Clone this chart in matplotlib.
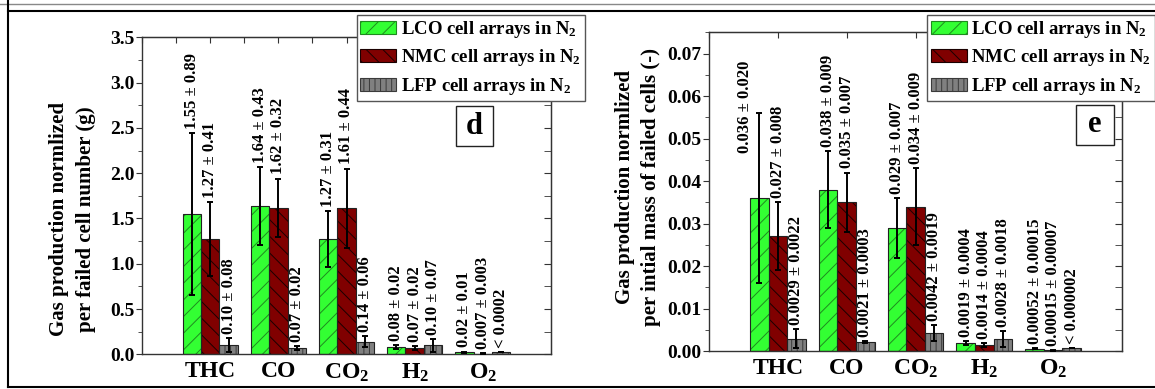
import matplotlib
matplotlib.use("Agg")
import matplotlib.pyplot as plt
from matplotlib.patches import Patch, Rectangle
from matplotlib.lines import Line2D
from matplotlib.ticker import MultipleLocator

plt.rcParams['font.family'] = ['Liberation Serif', 'DejaVu Serif']
plt.rcParams['font.weight'] = 'bold'
plt.rcParams['mathtext.fontset'] = 'custom'
plt.rcParams['mathtext.rm'] = 'Liberation Serif:bold'
plt.rcParams['mathtext.bf'] = 'Liberation Serif:bold'
plt.rcParams['mathtext.default'] = 'bf'
plt.rcParams['hatch.linewidth'] = 0.7

gases = ['THC', 'CO', 'CO$_2$', 'H$_2$', 'O$_2$']
series = ['LCO cell arrays in N$_2$', 'NMC cell arrays in N$_2$', 'LFP cell arrays in N$_2$']

# panel d: per failed cell number (g)
d_lco = [1.55, 1.64, 1.27, 0.08, 0.02]
d_lco_err = [0.89, 0.43, 0.31, 0.02, 0.01]
d_nmc = [1.27, 1.62, 1.61, 0.07, 0.007]
d_nmc_err = [0.41, 0.32, 0.44, 0.02, 0.003]
d_lfp = [0.10, 0.07, 0.14, 0.10, 0.02]
d_lfp_err = [0.08, 0.02, 0.06, 0.07, 0]
d_lbl_lco = ['1.55 ± 0.89', '1.64 ± 0.43', '1.27 ± 0.31', '0.08 ± 0.02', '0.02 ± 0.01']
d_lbl_nmc = ['1.27 ± 0.41', '1.62 ± 0.32', '1.61 ± 0.44', '0.07 ± 0.02', '0.007 ± 0.003']
d_lbl_lfp = ['0.10 ± 0.08', '0.07 ± 0.02', '0.14 ± 0.06', '0.10 ± 0.07', '< 0.0002']

# panel e: per initial mass of failed cells (-)
e_lco = [0.036, 0.038, 0.029, 0.0019, 0.00052]
e_lco_err = [0.020, 0.009, 0.007, 0.0004, 0.00015]
e_nmc = [0.027, 0.035, 0.034, 0.0014, 0.00015]
e_nmc_err = [0.008, 0.007, 0.009, 0.0004, 0.00007]
e_lfp = [0.0029, 0.0021, 0.0042, 0.0028, 0.0006]
e_lfp_err = [0.0022, 0.0003, 0.0019, 0.0018, 0]
e_lbl_lco = ['0.036 ± 0.020', '0.038 ± 0.009', '0.029 ± 0.007', '0.0019 ± 0.0004', '0.00052 ± 0.00015']
e_lbl_nmc = ['0.027 ± 0.008', '0.035 ± 0.007', '0.034 ± 0.009', '0.0014 ± 0.0004', '0.00015 ± 0.00007']
e_lbl_lfp = ['0.0029 ± 0.0022', '0.0021 ± 0.0003', '0.0042 ± 0.0019', '0.0028 ± 0.0018', '< 0.000002']

colors = ['#33ff33', '#800000', '#808080']
hatch_colors = ['#1f8a1f', '#1a0000', '#3a3a3a']
hatches = ['//', '\\\\', '|||']
W = 1155.0
H = 389.0


def panel(ax, vals, errs, labels, ymax, major, minor, top_step, ylabel, lab_xy, letter_box, overrides):
    x = range(1, len(gases) + 1)
    w = 0.27
    for i in range(3):
        pos = [xi + (i - 1) * w for xi in x]
        ax.bar(pos, vals[i], w, color=colors[i], edgecolor=hatch_colors[i], hatch=hatches[i], linewidth=0, zorder=2)
        ax.bar(pos, vals[i], w, fill=False, edgecolor='#222222', linewidth=0.8, zorder=3)
        ax.errorbar(pos, vals[i], yerr=errs[i], fmt='none', ecolor='black', elinewidth=1.4,
                    capsize=2.5, capthick=1.4, zorder=4)
        for j, p in enumerate(pos):
            if (i, j) in overrides:
                dx, yy = overrides[(i, j)]
                ax.annotate(labels[i][j], (p + dx, yy), rotation=90, ha='center', va='bottom',
                            fontsize=12, fontweight='bold', zorder=5)
            else:
                ax.annotate(labels[i][j], (p, vals[i][j] + errs[i][j]), xytext=(0, 3),
                            textcoords='offset points', rotation=90, ha='center', va='bottom',
                            fontsize=12, fontweight='bold', zorder=5)
    ax.set_xlim(0, 6)
    ax.set_ylim(0, ymax)
    ax.set_xticks(list(x))
    ax.set_xticklabels(gases, fontsize=17, fontweight='bold')
    ax.tick_params(axis='x', length=0, pad=5)
    ax.yaxis.set_major_locator(MultipleLocator(major))
    ax.yaxis.set_minor_locator(MultipleLocator(minor))
    ax.tick_params(axis='y', which='both', direction='out', labelsize=14, pad=1.5, color='#333333')
    ax.tick_params(axis='y', which='major', length=4)
    ax.tick_params(axis='y', which='minor', length=3)
    for s in ax.spines.values():
        s.set_color('#333333')
        s.set_linewidth(1)
    for t in ax.get_yticklabels():
        t.set_fontweight('bold')
    top = ax.secondary_xaxis('top')
    top.xaxis.set_major_locator(MultipleLocator(top_step))
    top.tick_params(direction='in', length=4, labeltop=False, color='#333333')
    top.spines['top'].set_color('#333333')
    right = ax.secondary_yaxis('right')
    right.yaxis.set_major_locator(MultipleLocator(major))
    right.yaxis.set_minor_locator(MultipleLocator(minor))
    right.tick_params(which='both', direction='in', labelright=False, color='#333333')
    right.tick_params(which='major', length=5)
    right.tick_params(which='minor', length=5)
    right.spines['right'].set_color('#333333')
    fig.text(lab_xy[0] / W, 1 - lab_xy[1] / H, ylabel, rotation=90, ha='center', va='center',
             multialignment='center', fontsize=15, fontweight='bold', linespacing=1.45)
    bx0, by0, bx1, by1, letter = letter_box
    fig.add_artist(Rectangle((bx0 / W, 1 - by1 / H), (bx1 - bx0) / W, (by1 - by0) / H,
                             transform=fig.transFigure, facecolor='white', edgecolor='#222222',
                             linewidth=1, zorder=6))
    fig.text((bx0 + bx1) / 2 / W, 1 - (by0 + by1) / 2 / H, letter, ha='center', va='center',
             fontsize=22, fontweight='bold', zorder=7)


fig = plt.figure(figsize=(11.55, 3.89), dpi=100)
ax1 = fig.add_axes([142 / W, 1 - 354.3 / H, 409 / W, 317 / H])
ax2 = fig.add_axes([709 / W, 1 - 351 / H, 413 / W, 318.7 / H])

panel(ax1, [d_lco, d_nmc, d_lfp], [d_lco_err, d_nmc_err, d_lfp_err],
      [d_lbl_lco, d_lbl_nmc, d_lbl_lfp], 3.5, 0.5, 0.25, 0.5,
      'Gas production normlized\nper failed cell number (g)', (72.5, 219),
      (456, 106, 493, 146, 'd'), {})
panel(ax2, [e_lco, e_nmc, e_lfp], [e_lco_err, e_nmc_err, e_lfp_err],
      [e_lbl_lco, e_lbl_nmc, e_lbl_lfp], 0.075, 0.01, 0.005, 1.0,
      'Gas production normlized\nper intial mass of failed cells (-)', (638, 187.5),
      (1076, 105, 1114, 145, 'e'), {(0, 0): (-0.2, 0.0466)})

handles = [Patch(facecolor=colors[i], edgecolor=hatch_colors[i], hatch=hatches[i], linewidth=0.8)
           for i in range(3)]
for anchor in [(356.7 / W, 1 - 15 / H), (927.3 / W, 1 - 15 / H)]:
    leg = fig.legend(handles, series, loc='upper left', bbox_to_anchor=anchor, fontsize=13.5,
                     frameon=True, fancybox=False, framealpha=1, edgecolor='#555555',
                     handlelength=1.9, handleheight=0.7, handletextpad=0.25, labelspacing=0.4,
                     borderpad=0.2, borderaxespad=0)
    leg.get_frame().set_linewidth(1)
    leg.set_zorder(8)
    for t in leg.get_texts():
        t.set_fontweight('bold')

# outer frame lines
fig.add_artist(Line2D([0, 1], [1 - 4 / H, 1 - 4 / H], transform=fig.transFigure, color='#888888', linewidth=1))
fig.add_artist(Line2D([8 / W, 1], [1 - 10.5 / H, 1 - 10.5 / H], transform=fig.transFigure, color='black', linewidth=1.5))
fig.add_artist(Line2D([8 / W, 8 / W], [1 - 387 / H, 1], transform=fig.transFigure, color='black', linewidth=1.5))
fig.add_artist(Line2D([8 / W, 1], [1 - 387 / H, 1 - 387 / H], transform=fig.transFigure, color='black', linewidth=1.5))

fig.savefig('out.png', dpi=100)
